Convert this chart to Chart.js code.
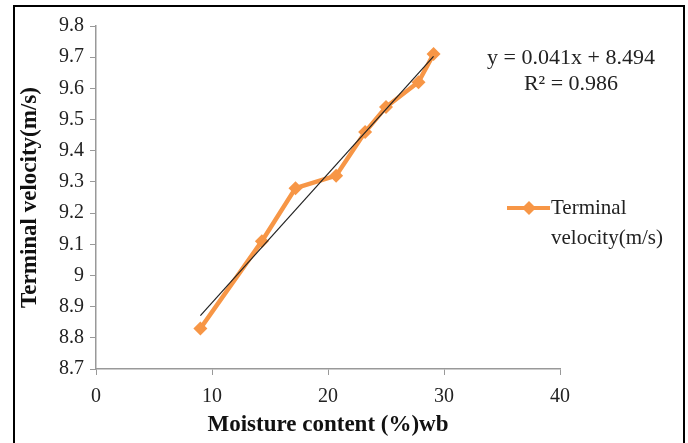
<!DOCTYPE html>
<html>
<head>
<meta charset="utf-8">
<script src="https://cdn.jsdelivr.net/npm/chart.js@4"></script>
<style>
    html, body { margin: 0; padding: 0; background: #fff; }
    #wrap { position: relative; width: 688px; height: 443px; }
    #frame {
        position: absolute; left: 13px; top: 5px; width: 668px; height: 460px;
        border-left: 2px solid #000; border-top: 2px solid #000; border-right: 2px solid #000;
    }
    canvas { position: absolute; left: 0; top: 0; }
</style>
</head>
<body>
<div id="wrap">
    <canvas id="velocityChart" width="688" height="443"></canvas>
    <div id="frame"></div>
</div>
<script>
// 数据
const moisture = [9, 14.3, 17.2, 20.7, 23.2, 25, 27.8, 29.1];
const velocity = [8.83, 9.11, 9.28, 9.32, 9.46, 9.54, 9.62, 9.71];
const xTicks = [0, 10, 20, 30, 40];
const yTicks = [8.7, 8.8, 8.9, 9, 9.1, 9.2, 9.3, 9.4, 9.5, 9.6, 9.7, 9.8];
const seriesName = ['Terminal', 'velocity(m/s)'];
const equationText = ['y = 0.041x + 8.494', 'R\u00B2 = 0.986'];

const ORANGE = '#F79646';
const SERIF = '"Liberation Serif", "DejaVu Serif", serif';

// 线性趋势线（最小二乘）
function linearFit(xs, ys) {
    const n = xs.length;
    const mx = xs.reduce((a, b) => a + b, 0) / n;
    const my = ys.reduce((a, b) => a + b, 0) / n;
    let sxy = 0, sxx = 0;
    for (let i = 0; i < n; i++) {
        sxy += (xs[i] - mx) * (ys[i] - my);
        sxx += (xs[i] - mx) * (xs[i] - mx);
    }
    const slope = sxy / sxx;
    return { slope, intercept: my - slope * mx };
}

const fit = linearFit(moisture, velocity);
const xMin = Math.min(...moisture);
const xMax = Math.max(...moisture);
const trendPoints = [xMin, xMax].map(x => ({ x, y: fit.slope * x + fit.intercept }));

// 图例和公式文本
const annotationPlugin = {
    id: 'annotations',
    afterDraw(chart) {
        const ctx = chart.ctx;
        ctx.save();
        ctx.fillStyle = '#222';
        ctx.font = '22px ' + SERIF;
        ctx.textAlign = 'center';
        ctx.textBaseline = 'middle';
        ctx.fillText(equationText[0], 571, 58);
        ctx.fillText(equationText[1], 571, 84);

        // 图例
        const ly = 208;
        ctx.strokeStyle = ORANGE;
        ctx.lineWidth = 4;
        ctx.beginPath();
        ctx.moveTo(507, ly);
        ctx.lineTo(550, ly);
        ctx.stroke();
        ctx.fillStyle = ORANGE;
        ctx.beginPath();
        ctx.moveTo(529, ly - 7);
        ctx.lineTo(536, ly);
        ctx.lineTo(529, ly + 7);
        ctx.lineTo(522, ly);
        ctx.closePath();
        ctx.fill();

        ctx.fillStyle = '#222';
        ctx.font = '21px ' + SERIF;
        ctx.textAlign = 'left';
        ctx.fillText(seriesName[0], 551, ly);
        ctx.fillText(seriesName[1], 551, ly + 30);
        ctx.restore();
    }
};

function initializeChart() {
    const ctx = document.getElementById('velocityChart');

    const config = {
        type: 'scatter',
        data: {
            datasets: [{
                label: seriesName.join(' '),
                data: moisture.map((x, i) => ({ x, y: velocity[i] })),
                showLine: true,
                borderColor: ORANGE,
                backgroundColor: ORANGE,
                borderWidth: 4.5,
                pointStyle: 'rectRot',
                pointRadius: 7,
                pointBorderWidth: 0,
                order: 2
            }, {
                label: 'trend',
                data: trendPoints,
                showLine: true,
                borderColor: '#222',
                borderWidth: 1.2,
                pointRadius: 0,
                order: 1
            }]
        },
        options: {
            responsive: false,
            animation: false,
            layout: {
                padding: { left: 14, top: 26, right: 128, bottom: 4 }
            },
            plugins: {
                legend: { display: false },
                tooltip: { enabled: false }
            },
            scales: {
                x: {
                    type: 'linear',
                    min: 0,
                    max: 40,
                    afterBuildTicks(axis) {
                        axis.ticks = xTicks.map(v => ({ value: v }));
                    },
                    afterFit(axis) { axis.height = 70; },
                    grid: {
                        drawOnChartArea: false,
                        color: '#999',
                        tickLength: 6
                    },
                    border: { color: '#999', width: 1.5 },
                    ticks: {
                        color: '#222',
                        padding: 10,
                        font: { family: SERIF, size: 20 }
                    },
                    title: {
                        display: true,
                        text: 'Moisture content (%)wb',
                        color: '#111',
                        padding: { top: 0, bottom: 0 },
                        font: { family: SERIF, size: 23, weight: 'bold' }
                    }
                },
                y: {
                    type: 'linear',
                    min: 8.7,
                    max: 9.8,
                    afterBuildTicks(axis) {
                        axis.ticks = yTicks.map(v => ({ value: v }));
                    },
                    afterFit(axis) { axis.width = 82; },
                    grid: {
                        drawOnChartArea: false,
                        color: '#999',
                        tickLength: 6
                    },
                    border: { color: '#999', width: 1.5 },
                    ticks: {
                        color: '#222',
                        padding: 6,
                        font: { family: SERIF, size: 20 },
                        callback: v => String(Number(v.toFixed(1)))
                    },
                    title: {
                        display: true,
                        text: 'Terminal velocity(m/s)',
                        color: '#111',
                        padding: { top: 2, bottom: 0 },
                        font: { family: SERIF, size: 23, weight: 'bold' }
                    }
                }
            }
        },
        plugins: [annotationPlugin]
    };

    new Chart(ctx, config);
}

document.addEventListener('DOMContentLoaded', initializeChart);
</script>
</body>
</html>
